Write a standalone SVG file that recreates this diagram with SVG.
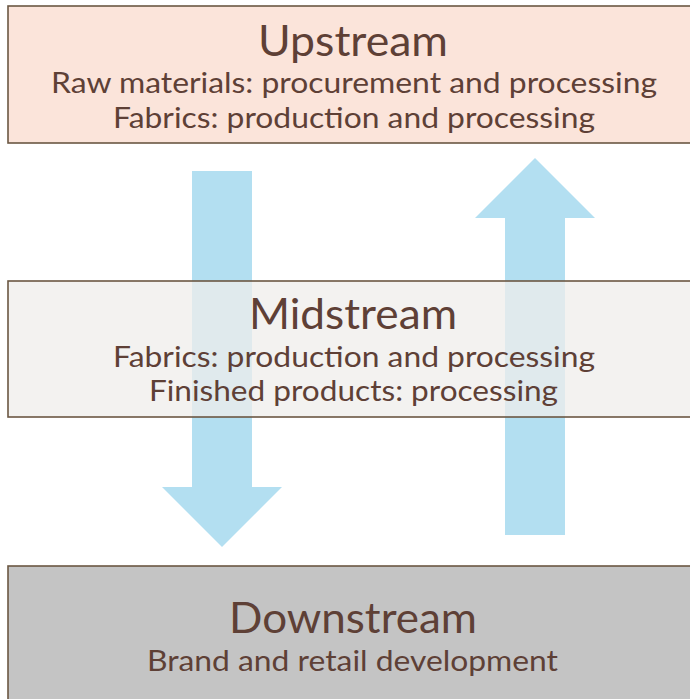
<svg xmlns="http://www.w3.org/2000/svg" width="690" height="699" viewBox="0 0 690 699">
<style>
.box{stroke:#6b5743;stroke-width:1.6}
.t{font-family:Lato,"Source Sans Pro","Open Sans",sans-serif;fill:#5e4036;text-anchor:middle}
.h{font-size:42px}
.s{font-size:29px}
.arrow{fill:#b3dff1}
</style>
<rect width="690" height="699" fill="#ffffff"/>
<g id="connectors">
<polygon class="arrow" points="192,171 252,171 252,487 282,487 222,547 162,487 192,487"/>
<polygon class="arrow" points="505,535 565,535 565,218 595,218 535,158 475,218 505,218"/>
</g>
<g id="upstream">
<rect class="box" x="8" y="6" width="700" height="137" fill="#fbe4da"/>
<text class="t h" x="353" y="56" textLength="190" lengthAdjust="spacingAndGlyphs">Upstream</text>
<text class="t s" x="354" y="93" textLength="606" lengthAdjust="spacingAndGlyphs">Raw materials: procurement and processing</text>
<text class="t s" x="354" y="128" textLength="482" lengthAdjust="spacingAndGlyphs">Fabrics: production and processing</text>
</g>
<g id="midstream">
<rect class="box" x="8" y="281" width="700" height="136" fill="#efedeb" fill-opacity="0.75"/>
<text class="t h" x="353" y="329" textLength="208" lengthAdjust="spacingAndGlyphs">Midstream</text>
<text class="t s" x="354" y="367" textLength="482" lengthAdjust="spacingAndGlyphs">Fabrics: production and processing</text>
<text class="t s" x="353.5" y="401" textLength="409" lengthAdjust="spacingAndGlyphs">Finished products: processing</text>
</g>
<g id="downstream">
<rect class="box" x="8" y="566" width="700" height="150" fill="#c4c4c4"/>
<text class="t h" x="353" y="633" textLength="248" lengthAdjust="spacingAndGlyphs">Downstream</text>
<text class="t s" x="352.5" y="671" textLength="411" lengthAdjust="spacingAndGlyphs">Brand and retail development</text>
</g>
</svg>
